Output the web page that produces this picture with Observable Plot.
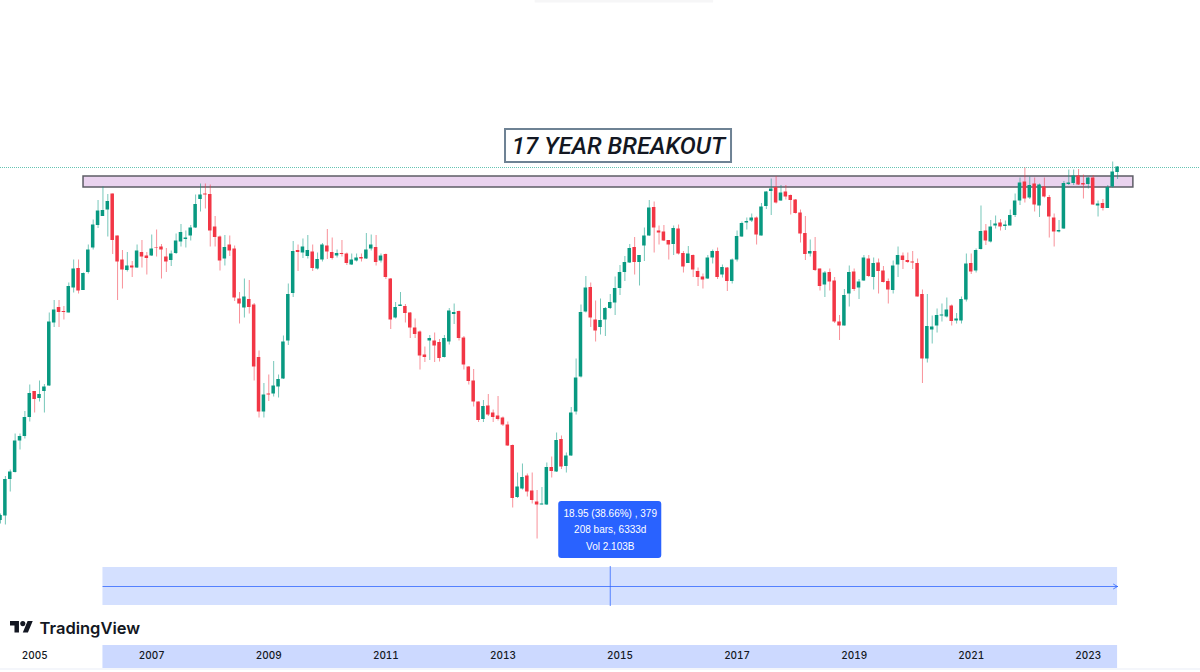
<!DOCTYPE html>
<html><head><meta charset="utf-8">
<script src="https://cdn.jsdelivr.net/npm/d3@7"></script>
<script src="https://cdn.jsdelivr.net/npm/@observablehq/plot@0.6"></script>
<style>html,body{margin:0;padding:0;background:#fff}svg{display:block}</style>
</head><body><div id="chart"></div>
<script>
const firstBarYear = 2005 - 7/12;
const openPrice = [152,156.5,193,200,231.5,236,255,281,274,281,
286.5,349.5,365,361,359.5,384.5,404,382,400,424.5,
447,456,462.5,478.5,436.5,412.5,402,406.5,404.5,420,
416.5,416.5,425,425.5,415.5,412,419,430.5,433,436.5,
444.5,473,478.5,478,445.5,435.5,413.5,427.5,423.5,373.5,
364.5,373,367.5,315,260.5,278.5,278.5,285.5,293.5,331.5,
379,422,419.5,416,420.5,403.5,412.5,426.5,420,416.5,
419,418.5,407.5,411.5,415,413.5,423.5,425,411.5,418,
393.5,354.5,366,366,359.5,344.5,340.5,317.5,331.5,331.5,
330,315,330.5,358,361,334.5,305.5,291.5,270.5,253,
266.5,259.5,256.5,254.5,247.5,227,175,183.5,196.5,181.5,
170.5,167.5,167.5,205,200.5,233,206,216.5,260.5,295.5,
360.5,385,352.5,345,352.5,364,369.5,384,400,409.5,
425,410,426.5,436.5,465,441.5,440.5,432,428,443.5,
419,409,417,401,395.5,393.5,414.5,421,397.5,404.5,
391,412.5,435.5,449.5,451.5,454.5,436.5,466,481,485,
471.5,480.5,477,472.5,459.5,439,418.5,421,403.5,387.5,
400,391.5,350.5,346.5,378.5,400.5,384.5,391.5,413.5,395,
409.5,401.5,391,382,407.5,416.5,412,410.5,409,378,
313.5,342.5,346.5,356.5,355.5,366.5,351.5,351.5,372.5,409,
401.5,423,441.5,430.5,446.5,449.5,446,446.5,457,471.5,
490.5,474.5,488.5,466.5,485.5,475,454.5,440.5,443.5,488,
489,496.5,489,488,494.5,466.5,469,464,485.5,500];
const highPrice = [158.5,196,202.5,238.5,238.5,261,287.5,281,291.5,288,
359.5,372,372,366,389.5,412.5,412.5,399.5,427.5,452.5,
472,485.5,478,478.5,436.5,422,420,411,427.5,432,
420,437.5,442.5,428,424,421.5,438.5,448,441.5,447,
477.5,488.5,488.5,487.5,456,436.5,437,436.5,426.5,380,
393.5,392,369,321.5,289,297.5,311,297.5,336.5,388.5,
431,427.5,433.5,437,427.5,419.5,429,443,434.5,422.5,
432,419.5,418.5,418.5,418.5,439,437.5,437,418.5,418.5,
394,370,380,368,360,353.5,341.5,325.5,337,339.5,
333,337,364,368.5,361.5,336,306,303,270.5,272,
278,262.5,276,255.5,250.5,227.5,199.5,208.5,198.5,199.5,
182,185,209.5,215.5,239.5,236.5,219.5,265,313.5,367.5,
396,389.5,371.5,373.5,365,378,395.5,407,416,428,
435,417,444.5,472,470.5,446.5,447,432,446.5,447.5,
421,426,417.5,404.5,398.5,417,422.5,424.5,407.5,405,
413.5,441.5,450.5,454.5,458.5,455.5,469,481,493.5,496,
487,487,477.5,473,462.5,456,432.5,435,403.5,401,
403.5,395,357,383,406.5,403.5,393,417,417,414.5,
413.5,406,393.5,411.5,425.5,419.5,419.5,421,413.5,382.5,
378,356.5,363.5,368.5,374.5,367.5,359,375.5,418.5,418.5,
423.5,466.5,448,452,456.5,453,451.5,462.5,478.5,494.5,
504.5,495.5,494.5,488.5,494.5,477,458.5,452,491,502.5,
502.5,503,497.5,495,497,471.5,473,487,510.5,506];
const lowPrice = [148.5,147.5,180.5,199.5,222.5,233.5,250.5,259.5,270.5,259.5,
286,345,345,352.5,359.5,379.5,378.5,382,398.5,422.5,
444,456,435.5,418,372,383.5,400.5,395,404,404.5,
397.5,416,415.5,393.5,400,406,418,425.5,424.5,431.5,
444,460.5,463.5,425.5,425.5,401.5,406.5,416,371,348.5,
354.5,358.5,291.5,254.5,254.5,271,275.5,274.5,293,327,
375,401,414,413.5,401,402.5,410.5,413,412.5,414.5,
415.5,407,407,410.5,410.5,413,421.5,406.5,409.5,393,
343,353.5,366,349.5,334,334,302.5,310,312,310,
310.5,314.5,327.5,348,331.5,302.5,287.5,265.5,250,250,
256,250,251.5,246,226,164.5,174,182.5,175.5,168.5,
133.5,167.5,167,194.5,200,203,199.5,216,257.5,294.5,
359.5,345,330.5,337.5,336,363,357,377,391,409,
397.5,386.5,411,436,419.5,427.5,431,412.5,417,417.5,
399.5,409,395,386,383.5,393,408.5,393,394.5,381,
388.5,410.5,435,442.5,450,427.5,436.5,463,457,468.5,
471,472.5,457.5,458.5,429.5,412,415.5,401,381.5,375,
381.5,349,332,346.5,365.5,381,373,391,395,382.5,
378.5,389.5,368.5,378.5,395,403,409,403,375.5,289,
309.5,328.5,339.5,350.5,354.5,346.5,348.5,348.5,370.5,398,
399.5,422.5,427,429.5,443.5,441.5,442,446.5,455,467,
469.5,473,460.5,455,474.5,434.5,425.5,439.5,443,487,
487,487,473.5,483.5,467,455.5,461.5,464,484.5,493];
const closePrice = [157,193,200.5,231.5,236,255,279,273,278,285.5,
350.5,362.5,360,360,386,403.5,381.5,399,422.5,447.5,
461.5,462,471,432,410.5,402.5,406.5,404.5,421.5,415.5,
414,423.5,424.5,422.5,410.5,418.5,431.5,440,434.5,444.5,
468,477.5,477.5,441.5,435,411.5,425,421.5,374.5,368.5,
375.5,365,305.5,260.5,277.5,277.5,286.5,293,330.5,378,
421,420,425.5,422,404,413,427.5,420.5,414,419,
418,409,412.5,414.5,413.5,422.5,427.5,410,416.5,395,
352.5,365,367.5,359,344.5,338,316.5,315,334,326.5,
314,334,361.5,360,334,307.5,291,270.5,252,266,
257.5,255,253,247.5,226.5,174,185.5,195,180.5,172,
167.5,168.5,205,201,232,205.5,216.5,259.5,294.5,360,
384.5,354.5,341.5,352,364,370,384,400,410,424,
410,417,436.5,464.5,444.5,439.5,431.5,427.5,444,418.5,
405.5,418.5,402.5,395,392.5,414.5,421,395,405,391,
412.5,436,449,451,454.5,437.5,465.5,480.5,483.5,469.5,
479.5,475.5,472,459,438.5,418,421,402,386,399.5,
390.5,350.5,346.5,377,400,383,390.5,414.5,396,409,
401,390,382.5,406.5,417,412,410,409.5,375.5,313.5,
346,345.5,357,357.5,362.5,351,353.5,373,408.5,400.5,
422,441,431.5,445.5,448.5,445.5,447.5,457,471.5,489.5,
473.5,487,467.5,487.5,475.5,455.5,440.5,442,489,489.5,
496.5,487.5,487.5,494.5,467.5,468.5,464,485,500.5,505.5];
const tickYears = [2005,2007,2009,2011,2013,2015,2017,2019,2021,2023];
const resistanceZone = [{x1:2005.835,x2:2023.77,y1:485,y2:496}];
const dottedLevel = [505];
const measureStartBar = 21, measureEndBar = 229;
const measureLabels = ["18.95 (38.66%) , 379","208 bars, 6333d","Vol 2.103B"];
const chartTitle = "17 YEAR BREAKOUT";
const brand = "TradingView";

const GREEN="#089981", RED="#F23645", BLUE="#2962FF";
const barYear = i => firstBarYear + i/12;
const bars = openPrice.map((o,i)=>({t:barYear(i),o,h:highPrice[i],l:lowPrice[i],c:closePrice[i]}));
const ups = bars.filter(d=>d.c>=d.o), downs = bars.filter(d=>d.c<d.o);
const half = 0.03;
const mx1 = barYear(measureStartBar), mx2 = barYear(measureEndBar), mMid = (mx1+mx2)/2;

const wick = (data,color)=>Plot.ruleX(data,{x:"t",y1:"l",y2:"h",stroke:color,strokeOpacity:0.55,strokeWidth:1});
const body = (data,color)=>Plot.rect(data,{x1:d=>d.t-half,x2:d=>d.t+half,y1:"o",y2:"c",fill:color});

const logo = ()=>{
  const g = d3.create("svg:g").attr("transform","translate(10,618.5) scale(0.64)").attr("fill","#131722");
  g.append("path").attr("d","M14 22H7V11H0V4h14v18zM28 22h-8l7.5-18h8L28 22z");
  g.append("circle").attr("cx",20).attr("cy",8).attr("r",4);
  return g.node();
};

const plot = Plot.plot({
  width:1200,height:672,
  marginTop:0,marginRight:0,marginLeft:0,marginBottom:27,
  style:{background:"#fff",fontFamily:"'Open Sans',sans-serif"},
  x:{domain:[firstBarYear,firstBarYear+246/12],range:[0,1200]},
  y:{domain:[0,672],range:[672,0]},
  marks:[
    Plot.rect([0],{x1:[2013.55],x2:[2016.6],y1:[669.5],y2:[672],fill:"#f6f6f7"}),
    Plot.ruleY([3.5],{stroke:"#f0f3fa",strokeWidth:1.5}),
    Plot.ruleY(dottedLevel,{stroke:"#3fb5a0",strokeOpacity:0.8,strokeDasharray:"1 1",strokeWidth:1}),
    Plot.rect(resistanceZone,{x1:"x1",x2:"x2",y1:"y1",y2:"y2",fill:"#EAD3EF",stroke:"#5d5d66",strokeWidth:1.5}),
    wick(ups,GREEN),wick(downs,RED),body(ups,GREEN),body(downs,RED),
    // title box
    Plot.rect([0],{x1:[2013.044],x2:[2016.905],y1:[510],y2:[543],fill:"#fff",stroke:"#6e8294",strokeWidth:2}),
    Plot.text([chartTitle],{x:[2014.975],y:[526.5],fontSize:24,fontStyle:"italic",fontWeight:500,fill:"#131722",fontFamily:"Roboto",text:d=>d}),
    // measure tool
    Plot.rect([0],{x1:[mx1],x2:[mx2],y1:[67],y2:[105],fill:BLUE,fillOpacity:0.2}),
    Plot.rect([0],{x1:[mx1],x2:[mx2],y1:[4],y2:[27],fill:BLUE,fillOpacity:0.24}),
    Plot.arrow([0],{x1:[mx1],x2:[mx2],y1:[86],y2:[86],stroke:BLUE,strokeOpacity:0.75,strokeWidth:1,headLength:7,bend:0,inset:0}),
    Plot.ruleX([mMid],{y1:66,y2:106,stroke:BLUE,strokeOpacity:0.75,strokeWidth:1}),
    Plot.rect([0],{x1:[mMid-0.88],x2:[mMid+0.88],y1:[114],y2:[171],fill:BLUE,rx:3}),
    Plot.text(measureLabels,{x:[mMid,mMid,mMid],y:[159,143,126],text:d=>d,fill:"#fff",fontSize:10,fontFamily:"Liberation Sans"}),
    // brand
    logo,
    Plot.text([brand],{x:[2005.084],y:[44],text:d=>d,textAnchor:"start",fontSize:16.5,fontWeight:600,fill:"#131722",fontFamily:"Inter"}),
    Plot.axisX({ticks:tickYears,tickFormat:"d",anchor:"bottom",tickSize:0,tickPadding:6,fontSize:10,fontWeight:500,fill:"#131722",label:null,fontFamily:"Inter"})
  ]
});
document.getElementById("chart").append(plot);
</script></body></html>
